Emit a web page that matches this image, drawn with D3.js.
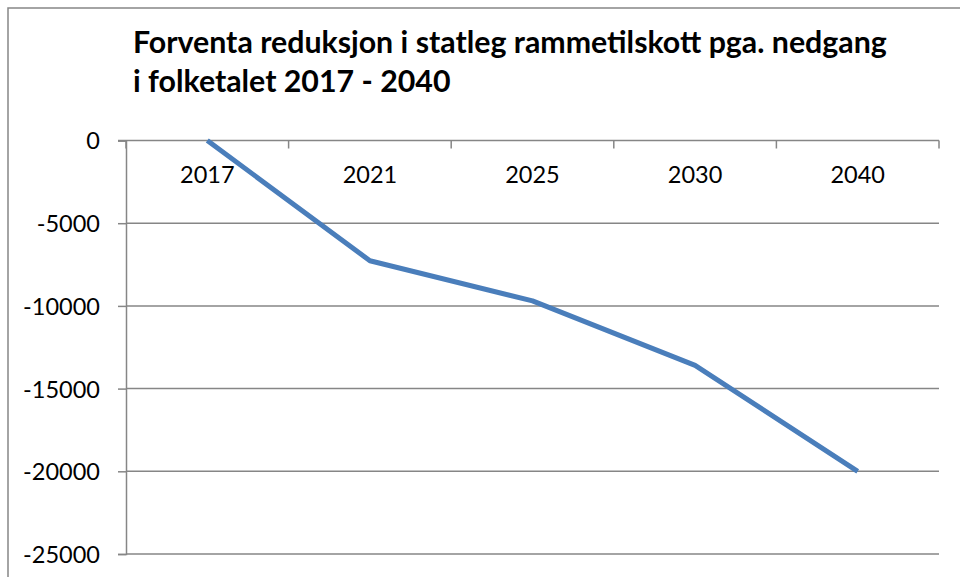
<!DOCTYPE html>
<html>
<head>
<meta charset="utf-8">
<script src="https://cdn.jsdelivr.net/npm/d3@7"></script>
<style>
  body { margin: 0; background: #fff; }
  text { font-family: Lato, "Open Sans", sans-serif; fill: #000; }
</style>
</head>
<body>
<div id="chart"></div>
<script>

var years = ["2017", "2021", "2025", "2030", "2040"];
var reduction = [0, -7270, -9700, -13600, -20000];
var yTicks = [0, -5000, -10000, -15000, -20000, -25000];
var titleLines = ["Forventa reduksjon i statleg rammetilskott pga. nedgang", "i folketalet 2017 - 2040"];

var W = 960, H = 577;
var margin = { top: 140.5, right: 21, bottom: 23, left: 126 };
var width = W - margin.left - margin.right;
var height = H - margin.top - margin.bottom;
var gray = "#868686";

var svg = d3.select("#chart").append("svg")
    .attr("width", W)
    .attr("height", H);

// chart frame (runs off the right and bottom edge like in the screenshot)
svg.append("rect")
    .attr("x", 8).attr("y", 8)
    .attr("width", W + 20).attr("height", H + 20)
    .attr("fill", "none")
    .attr("stroke", gray)
    .attr("stroke-width", 1.5);

// title, sized so the first line spans the same width as the original
var title = svg.append("g");
var t1 = title.append("text")
    .attr("x", 133).attr("y", 53)
    .style("font-weight", "bold")
    .style("font-size", "27px")
    .text(titleLines[0]);
var fs = 27 * 754 / t1.node().getComputedTextLength();
t1.style("font-size", fs + "px");
title.append("text")
    .attr("x", 133).attr("y", 92)
    .style("font-weight", "bold")
    .style("font-size", fs + "px")
    .text(titleLines[1]);

var x = d3.scaleBand().domain(years).range([0, width]);
var y = d3.scaleLinear().domain([-25000, 0]).range([height, 0]);

var g = svg.append("g").attr("transform", "translate(" + margin.left + "," + margin.top + ")");

// horizontal gridlines
g.selectAll(".grid")
    .data(yTicks.filter(function (d) { return d !== 0; }))
    .enter().append("line")
    .attr("class", "grid")
    .attr("x1", 0).attr("x2", width)
    .attr("y1", function (d) { return y(d); })
    .attr("y2", function (d) { return y(d); })
    .attr("stroke", gray)
    .attr("stroke-width", 1.5);

// value axis
var yAxis = d3.axisLeft(y).tickValues(yTicks).tickSize(8).tickPadding(18).tickFormat(d3.format("d"));
var ya = g.append("g").attr("class", "axis yAxis").call(yAxis);
ya.select(".domain").attr("stroke", gray).attr("stroke-width", 1.5);
ya.selectAll(".tick line").attr("stroke", gray).attr("stroke-width", 1.5);
ya.selectAll(".tick text")
    .style("font-size", "23.5px")
    .attr("dy", "0.36em")
    .text(function (d) { return d === 0 ? "0" : "-" + Math.abs(d); });

// category axis sits on the zero line, ticks between categories
g.append("line")
    .attr("x1", -8).attr("x2", width)
    .attr("y1", y(0)).attr("y2", y(0))
    .attr("stroke", gray).attr("stroke-width", 1.5);

var bounds = years.map(function (d) { return x(d); }).concat([width]);
g.selectAll(".xtick")
    .data(bounds)
    .enter().append("line")
    .attr("class", "xtick")
    .attr("x1", function (d) { return d; })
    .attr("x2", function (d) { return d; })
    .attr("y1", y(0)).attr("y2", y(0) + 8)
    .attr("stroke", gray).attr("stroke-width", 1.5);

g.selectAll(".xlabel")
    .data(years)
    .enter().append("text")
    .attr("class", "xlabel")
    .attr("x", function (d) { return x(d) + x.bandwidth() / 2; })
    .attr("y", y(0) + 42)
    .attr("text-anchor", "middle")
    .style("font-size", "23.5px")
    .text(function (d) { return d; });

// the series line
var line = d3.line()
    .x(function (d, i) { return x(years[i]) + x.bandwidth() / 2; })
    .y(function (d) { return y(d); });

g.append("path")
    .datum(reduction)
    .attr("class", "line")
    .attr("d", line)
    .attr("fill", "none")
    .attr("stroke", "#4a7ebb")
    .attr("stroke-width", 5)
    .attr("stroke-linejoin", "round");

</script>
</body>
</html>
